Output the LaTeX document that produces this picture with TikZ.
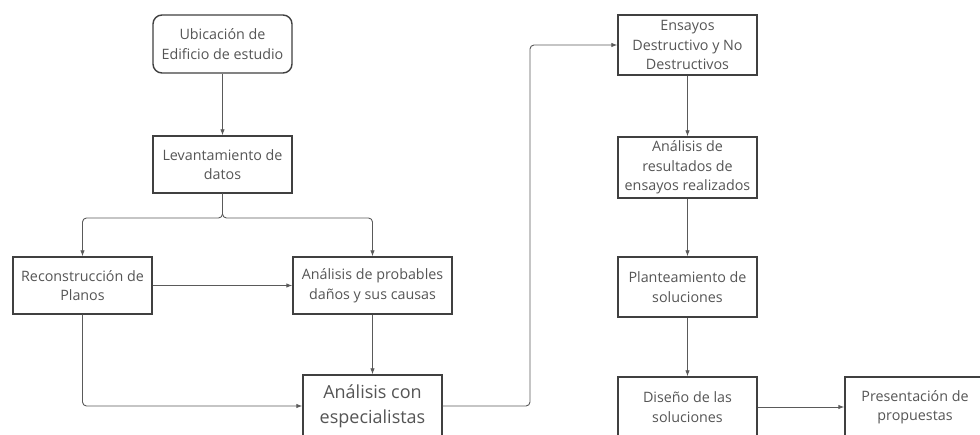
\documentclass[tikz,border=0pt]{standalone}
\usepackage{fontspec}
\setmainfont{Open Sans}
\usetikzlibrary{arrows.meta}
\definecolor{txt}{HTML}{555555}
\definecolor{bord}{HTML}{404040}
\definecolor{conn}{HTML}{5A5A5A}
\tikzset{
  stepbox/.style={draw=bord, line width=1.4pt, fill=white, text=txt, align=center,
    minimum width=139pt, inner sep=2pt,
    font=\fontsize{14.3pt}{19.5pt}\selectfont},
  roundbox/.style={stepbox, rounded corners=9pt},
  bigbox/.style={stepbox, font=\fontsize{18pt}{25pt}\selectfont},
  conn/.style={draw=conn, line width=0.9pt, rounded corners=4pt,
    -{Latex[length=6pt,width=4.5pt]}}
}
\begin{document}
\begin{tikzpicture}[x=1pt,y=-1pt]
\useasboundingbox (0,0) rectangle (980,435);
\node[roundbox, minimum height=58pt] (ubi) at (222.5,44) {Ubicación de\\Edificio de estudio};
\node[stepbox, minimum height=57pt] (lev) at (222.5,164.5) {Levantamiento de\\datos};
\node[stepbox, minimum height=57pt] (rec) at (82.5,285.5) {Reconstrucción de\\Planos};
\node[stepbox, minimum height=57pt, minimum width=159pt] (ana) at (372.5,285.5) {Análisis de probables\\daños y sus causas};
\node[bigbox, minimum height=62pt] (esp) at (372.5,406) {Análisis con\\especialistas};
\node[stepbox, minimum height=60pt] (ens) at (687.5,45) {Ensayos\\Destructivo y No\\Destructivos};
\node[stepbox, minimum height=61pt] (res) at (687.5,167.5) {Análisis de\\resultados de\\ensayos realizados};
\node[stepbox, minimum height=60pt] (pla) at (687.5,287) {Planteamiento de\\soluciones};
\node[stepbox, minimum height=60pt] (dis) at (687.5,407) {Diseño de las\\soluciones};
\node[stepbox, minimum height=60pt, minimum width=140pt] (pre) at (915,407) {Presentación de\\propuestas};
\coordinate (br) at (222.5,218);
\coordinate (up) at (530,45);
\draw[conn] (ubi) -- (lev);
\draw[conn] (lev.south) -- (br) -| (rec.north);
\draw[conn] (lev.south) -- (br) -| (ana.north);
\draw[conn] (rec) -- (ana);
\draw[conn] (ana) -- (esp);
\draw[conn] (rec.south) |- (esp.west);
\draw[conn] (esp.east) -| (up) -- (ens.west);
\draw[conn] (ens) -- (res);
\draw[conn] (res) -- (pla);
\draw[conn] (pla) -- (dis);
\draw[conn] (dis) -- (pre);
\end{tikzpicture}
\end{document}
